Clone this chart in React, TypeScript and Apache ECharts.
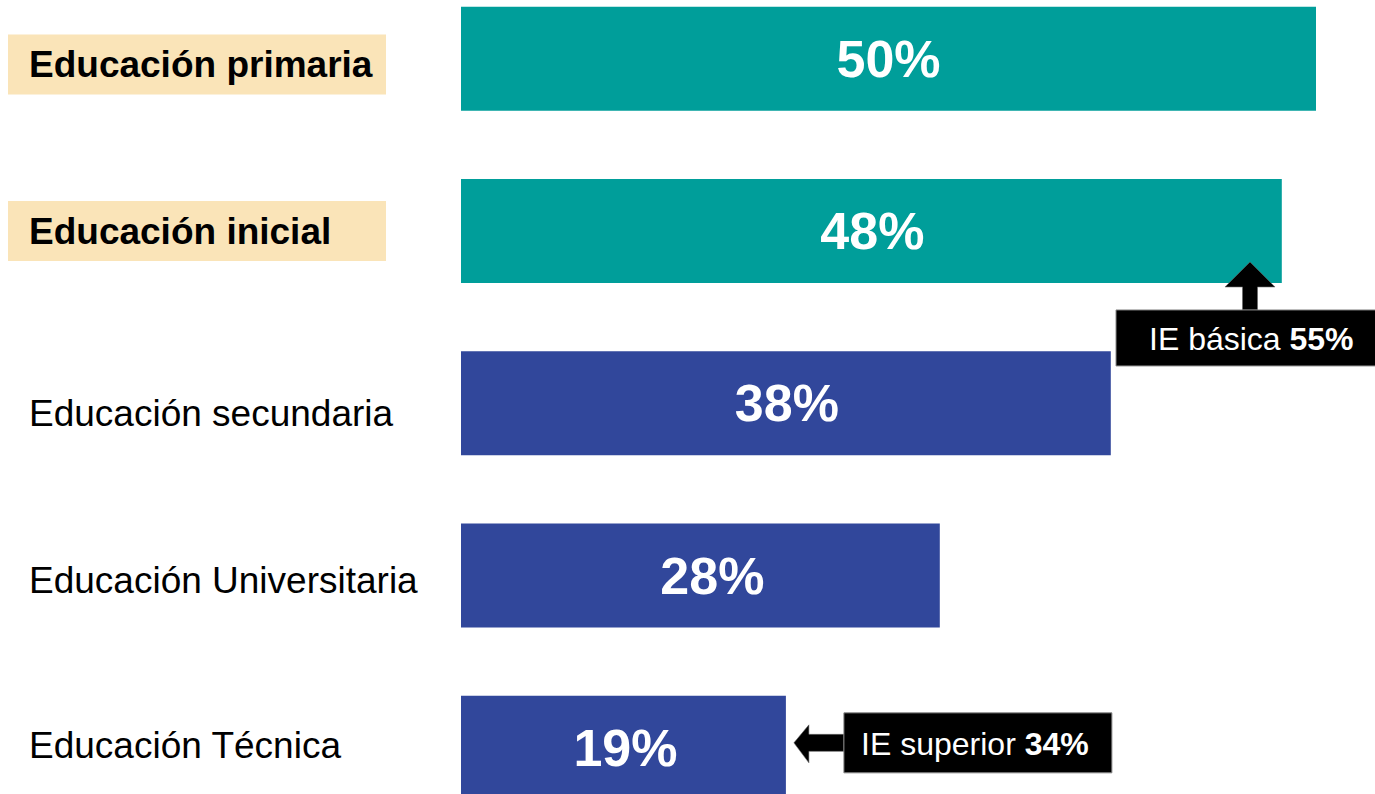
import React, { useEffect, useRef } from "react";
import * as echarts from "echarts";

const categories = [
  "Educación primaria",
  "Educación inicial",
  "Educación secundaria",
  "Educación Universitaria",
  "Educación Técnica",
];
const values = [50, 48, 38, 28, 19];
const highlighted = [true, true, false, false, false];
const barColors = ["#009E9A", "#009E9A", "#31479B", "#31479B", "#31479B"];
// vertical nudges of the category labels (px, + = down)
const labelShift = [5.8, 0, 10, 4.5, -2];
// horizontal nudges of the value labels (px)
const valueLabelShift = [0, 1, 1, 12, 2];

const noteBasicaLabel = "IE básica ";
const noteBasicaValue = "55%";
const noteSuperiorLabel = "IE superior ";
const noteSuperiorValue = "34%";

const FONT = "'Liberation Sans', Arial, sans-serif";

export default function App() {
  const ref = useRef<HTMLDivElement>(null);

  useEffect(() => {
    if (!ref.current) return;
    const chart = echarts.init(ref.current, null, { renderer: "svg" });

    const option: any = {
      animation: false,
      backgroundColor: "#ffffff",
      grid: {
        left: 461,
        right: 59,
        top: -27.5,
        height: 861.5,
        containLabel: false,
        outerBoundsMode: "none",
      },
      xAxis: {
        type: "value",
        min: 0,
        max: 50,
        show: false,
      },
      yAxis: {
        type: "category",
        inverse: true,
        data: categories.map((c, i) => ({
          value: c,
          textStyle: {
            align: "left",
            verticalAlign: "middle",
            padding:
              labelShift[i] >= 0
                ? [labelShift[i] * 2, 0, 0, 0]
                : [0, 0, -labelShift[i] * 2, 0],
          },
        })),
        axisLine: { show: false },
        axisTick: { show: false },
        splitLine: { show: false },
        axisLabel: {
          align: "left",
          margin: 453,
          fontFamily: FONT,
          fontSize: 37,
          color: "#000",
          formatter: (v: string) => {
            const i = categories.indexOf(v);
            return highlighted[i] ? `{hl|${v}}` : `{pl|${v}}`;
          },
          rich: {
            hl: {
              fontFamily: FONT,
              fontSize: 37,
              fontWeight: "bold",
              color: "#000",
              lineHeight: 40,
              width: 343,
              backgroundColor: "#FAE4B8",
              padding: [12, 14, 11, 21],
            },
            pl: {
              fontFamily: FONT,
              fontSize: 37,
              color: "#000",
              lineHeight: 40,
              padding: [0, 0, 0, 21],
            },
          },
        },
      },
      series: [
        {
          type: "bar",
          barWidth: 104,
          z: 2,
          data: values.map((v, i) => ({
            value: v,
            itemStyle: { color: barColors[i] },
            label: { offset: [valueLabelShift[i], 0] },
          })),
          label: {
            show: true,
            position: "inside",
            formatter: "{c}%",
            color: "#fff",
            fontFamily: FONT,
            fontWeight: "bold",
            fontSize: 52,
          },
        },
      ],
    };
    chart.setOption(option);

    // annotations anchored to the bars via the chart's scales
    const y2 = chart.convertToPixel({ gridIndex: 0 } as any, [0, categories[1]])[1];
    const y5 = chart.convertToPixel({ gridIndex: 0 } as any, [0, categories[4]])[1];
    const x5 = chart.convertToPixel({ gridIndex: 0 } as any, [values[4], categories[4]])[0];

    // arrow 1 (up) tip
    const t1x = 1250;
    const t1y = y2 + 31;
    const box1 = { x: 1116, y: t1y + 48, w: 270, h: 56 };
    // arrow 2 (left) tip
    const t2x = x5 + 8;
    const t2y = y5 - 5;
    const box2 = { x: t2x + 50, y: t2y - 30, w: 268, h: 60 };

    const textRich = {
      r: { fontFamily: FONT, fontSize: 32, fill: "#fff" },
      b: { fontFamily: FONT, fontSize: 32, fill: "#fff", fontWeight: "bold" },
    };

    chart.setOption({
      graphic: [
        {
          type: "polygon",
          z: 100,
          shape: {
            points: [
              [t1x, t1y],
              [t1x + 25, t1y + 25],
              [t1x + 7.5, t1y + 25],
              [t1x + 7.5, box1.y],
              [t1x - 7.5, box1.y],
              [t1x - 7.5, t1y + 25],
              [t1x - 25, t1y + 25],
            ],
          },
          style: { fill: "#000", stroke: "#666", lineWidth: 0.6 },
        },
        {
          type: "rect",
          z: 100,
          shape: { x: box1.x, y: box1.y, width: box1.w, height: box1.h },
          style: { fill: "#000", stroke: "#8a8a8a", lineWidth: 1 },
        },
        {
          type: "text",
          z: 101,
          x: box1.x + 33,
          y: box1.y + box1.h / 2 + 1,
          style: {
            text: `{r|${noteBasicaLabel}}{b|${noteBasicaValue}}`,
            rich: textRich,
            fill: "#fff",
            font: `32px ${FONT}`,
            verticalAlign: "middle",
            align: "left",
          },
        },
        {
          type: "polygon",
          z: 100,
          shape: {
            points: [
              [t2x, t2y],
              [t2x + 15, t2y - 18],
              [t2x + 15, t2y - 8.5],
              [box2.x, t2y - 8.5],
              [box2.x, t2y + 8.5],
              [t2x + 15, t2y + 8.5],
              [t2x + 15, t2y + 20],
            ],
          },
          style: { fill: "#000", stroke: "#666", lineWidth: 0.6 },
        },
        {
          type: "rect",
          z: 100,
          shape: { x: box2.x, y: box2.y, width: box2.w, height: box2.h },
          style: { fill: "#000", stroke: "#8a8a8a", lineWidth: 1 },
        },
        {
          type: "text",
          z: 101,
          x: box2.x + box2.w / 2 - 3,
          y: box2.y + box2.h / 2 + 1,
          style: {
            text: `{r|${noteSuperiorLabel}}{b|${noteSuperiorValue}}`,
            rich: textRich,
            fill: "#fff",
            font: `32px ${FONT}`,
            verticalAlign: "middle",
            align: "center",
          },
        },
      ],
    });

    return () => chart.dispose();
  }, []);

  return (
    <div
      ref={ref}
      style={{ position: "fixed", left: 0, top: 0, width: 1375, height: 794 }}
    />
  );
}
